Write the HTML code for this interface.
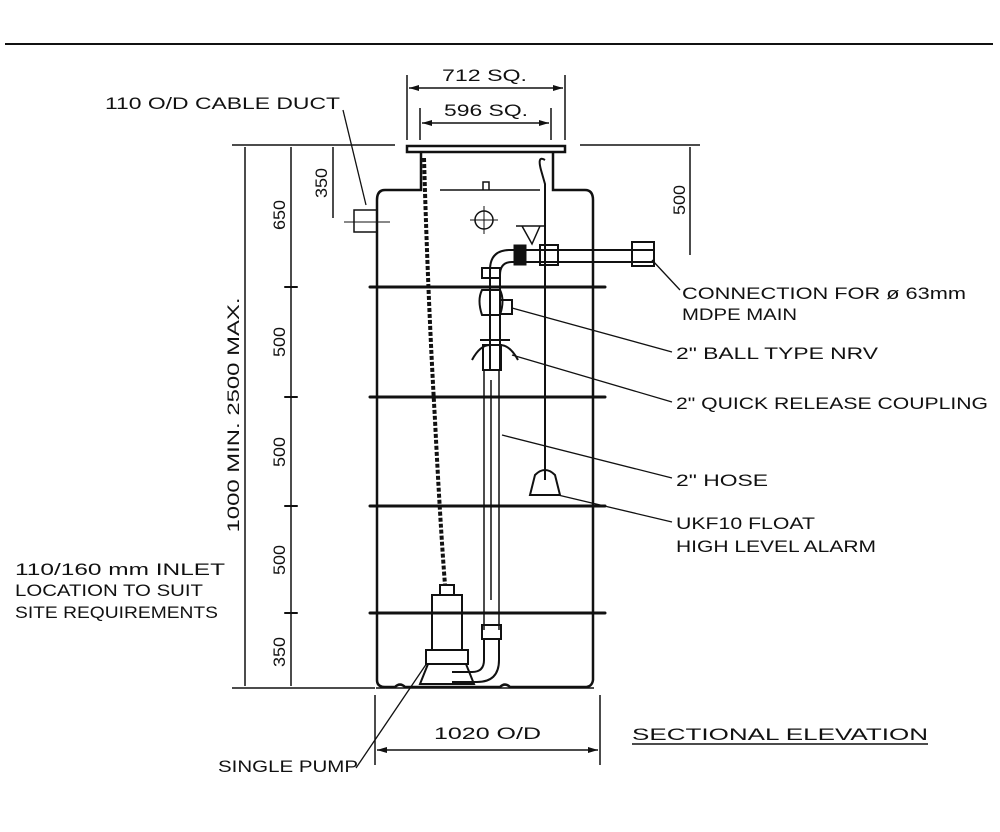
<!DOCTYPE html>
<html><head><style>body{margin:0;background:#fff}svg{display:block}text{font-family:"Liberation Sans",sans-serif;fill:#111;stroke:none;font-size:17px}</style></head><body>
<svg width="1000" height="832" viewBox="0 0 1000 832" stroke="#111" fill="none">
<line x1="5" y1="44" x2="993" y2="44" stroke-width="2"/>
<g stroke-width="1.5">
<line x1="407" y1="75" x2="407" y2="140"/><line x1="565" y1="75" x2="565" y2="140"/>
<line x1="420" y1="108" x2="420" y2="140"/><line x1="551" y1="108" x2="551" y2="140"/>
<line x1="409" y1="88" x2="563" y2="88"/><line x1="422" y1="123" x2="549" y2="123"/>
<line x1="232" y1="145" x2="395" y2="145"/><line x1="580" y1="145" x2="700" y2="145"/>
<line x1="232" y1="688" x2="375" y2="688"/>
<line x1="245" y1="147" x2="245" y2="686"/>
<line x1="291" y1="147" x2="291" y2="686"/>
<line x1="333" y1="147" x2="333" y2="218"/>
<line x1="690" y1="147" x2="690" y2="255"/>
<line x1="375" y1="695" x2="375" y2="765"/><line x1="600" y1="695" x2="600" y2="765"/>
<line x1="377" y1="750" x2="598" y2="750"/>
</g>
<g fill="#111" stroke="none">
<path d="M409 88l10-3v6zM563 88l-10-3v6zM422 123l10-3v6zM549 123l-10-3v6zM377 750l10-3v6zM598 750l-10-3v6z"/>
</g>
<g stroke-width="2" stroke-linecap="round">
<line x1="285" y1="287" x2="297" y2="287"/><line x1="285" y1="397" x2="297" y2="397"/><line x1="285" y1="506" x2="297" y2="506"/><line x1="285" y1="613" x2="297" y2="613"/>
</g>
<text x="442" y="81" textLength="85" lengthAdjust="spacingAndGlyphs">712 SQ.</text>
<text x="444" y="116" textLength="84" lengthAdjust="spacingAndGlyphs">596 SQ.</text>
<text x="105" y="109" textLength="235" lengthAdjust="spacingAndGlyphs">110 O/D CABLE DUCT</text>
<line x1="343" y1="110" x2="366" y2="205" stroke-width="1.3"/>
<g font-size="16">
<text transform="translate(285,215) rotate(-90)" text-anchor="middle" textLength="30" lengthAdjust="spacingAndGlyphs">650</text>
<text transform="translate(285,342) rotate(-90)" text-anchor="middle" textLength="30" lengthAdjust="spacingAndGlyphs">500</text>
<text transform="translate(285,452) rotate(-90)" text-anchor="middle" textLength="30" lengthAdjust="spacingAndGlyphs">500</text>
<text transform="translate(285,560) rotate(-90)" text-anchor="middle" textLength="30" lengthAdjust="spacingAndGlyphs">500</text>
<text transform="translate(285,652) rotate(-90)" text-anchor="middle" textLength="30" lengthAdjust="spacingAndGlyphs">350</text>
<text transform="translate(239,415) rotate(-90)" text-anchor="middle" textLength="235" lengthAdjust="spacingAndGlyphs">1000 MIN. 2500 MAX.</text>
<text transform="translate(327,183) rotate(-90)" text-anchor="middle" textLength="30" lengthAdjust="spacingAndGlyphs">350</text>
<text transform="translate(685,200) rotate(-90)" text-anchor="middle" textLength="30" lengthAdjust="spacingAndGlyphs">500</text>
</g>
<rect x="407" y="146" width="158" height="6" stroke-width="2.5"/>
<path d="M421 152V190H385q-8 0-8 10V680q0 7 8 7h10q5-5 10 0H500q5-5 10 0H585q7 0 8-7V200q0-10-8-10H553V152" stroke-width="2.5"/>
<line x1="376" y1="688" x2="594" y2="688" stroke-width="1.5"/>
<line x1="440" y1="190" x2="540" y2="190" stroke-width="1.5"/>
<path d="M483 190v-8h6v8" stroke-width="1.5"/>
<g stroke-width="3" stroke-linecap="round">
<line x1="370" y1="287" x2="605" y2="287"/><line x1="370" y1="397" x2="605" y2="397"/><line x1="370" y1="506" x2="605" y2="506"/><line x1="370" y1="613" x2="605" y2="613"/>
</g>
<rect x="354" y="210" width="23" height="22" stroke-width="1.5"/><line x1="344" y1="222" x2="390" y2="222"/>
<circle cx="484" cy="220" r="9" stroke-width="1.5"/><line x1="470" y1="220" x2="498" y2="220"/><line x1="484" y1="206" x2="484" y2="234"/>
<path d="M424 158 Q428 300 435 420 Q440 520 445 585" stroke-width="4" stroke-dasharray="4 2"/>
<path d="M545 160 q-8 -5 -4 10 l4 14 V480" stroke-width="2"/>
<path d="M535 475 q10 -10 20 0 l5 20 h-30z" stroke-width="2"/>
<path d="M490 370V270q0-20 20-20h145M500 370V275q0-13 12-13h143" stroke-width="2"/>
<rect x="482" y="268" width="18" height="10" stroke-width="2"/>
<rect x="514" y="245" width="12" height="20" fill="#111"/>
<rect x="540" y="245" width="18" height="20" stroke-width="2"/>
<rect x="632" y="242" width="22" height="24" stroke-width="2"/>
<path d="M516 226h30M522 226l10 18 8-18" stroke-width="1.5"/>
<path d="M482 290q-5 10 0 25h18q5-15 0-25z" stroke-width="2"/>
<rect x="500" y="300" width="12" height="14" stroke-width="2"/>
<path d="M472 360q8-15 18-15h10q10 0 18 15M480 340h30" stroke-width="2"/>
<rect x="483" y="345" width="18" height="25" stroke-width="2"/>
<path d="M484 370V630M499 370V630M491 380V600" stroke-width="1.5"/>
<rect x="482" y="625" width="19" height="14" stroke-width="2"/>
<path d="M484 640v20q0 12-12 12h-20M499 640v20q0 22-22 22h-25" stroke-width="2"/>
<rect x="432" y="595" width="30" height="55" stroke-width="2"/>
<rect x="440" y="585" width="14" height="10" stroke-width="2"/>
<rect x="426" y="650" width="42" height="14" stroke-width="2"/>
<path d="M428 664h38l8 20h-54z" stroke-width="2"/>
<g stroke-width="1.3">
<line x1="652" y1="260" x2="680" y2="290"/>
<line x1="512" y1="308" x2="672" y2="352"/>
<line x1="512" y1="355" x2="672" y2="402"/>
<line x1="502" y1="435" x2="672" y2="478"/>
<line x1="558" y1="495" x2="672" y2="522"/>
<line x1="427" y1="663" x2="356" y2="768"/>
</g>
<text x="682" y="299" textLength="284" lengthAdjust="spacingAndGlyphs">CONNECTION FOR ø 63mm</text>
<text x="682" y="320" textLength="115" lengthAdjust="spacingAndGlyphs">MDPE MAIN</text>
<text x="676" y="359" textLength="202" lengthAdjust="spacingAndGlyphs">2" BALL TYPE NRV</text>
<text x="676" y="409" textLength="312" lengthAdjust="spacingAndGlyphs">2" QUICK RELEASE COUPLING</text>
<text x="676" y="486" textLength="92" lengthAdjust="spacingAndGlyphs">2" HOSE</text>
<text x="676" y="529" textLength="139" lengthAdjust="spacingAndGlyphs">UKF10 FLOAT</text>
<text x="676" y="552" textLength="200" lengthAdjust="spacingAndGlyphs">HIGH LEVEL ALARM</text>
<text x="15" y="575" textLength="210" lengthAdjust="spacingAndGlyphs">110/160 mm INLET</text>
<text x="15" y="596" textLength="188" lengthAdjust="spacingAndGlyphs">LOCATION TO SUIT</text>
<text x="15" y="618" textLength="203" lengthAdjust="spacingAndGlyphs">SITE REQUIREMENTS</text>
<text x="218" y="772" textLength="140" lengthAdjust="spacingAndGlyphs">SINGLE PUMP</text>
<text x="434" y="739" textLength="107" lengthAdjust="spacingAndGlyphs">1020 O/D</text>
<text x="632" y="740" font-size="24" textLength="296" lengthAdjust="spacingAndGlyphs">SECTIONAL ELEVATION</text>
<line x1="632" y1="744" x2="928" y2="744" stroke-width="1.5"/>
</svg>
</body></html>
